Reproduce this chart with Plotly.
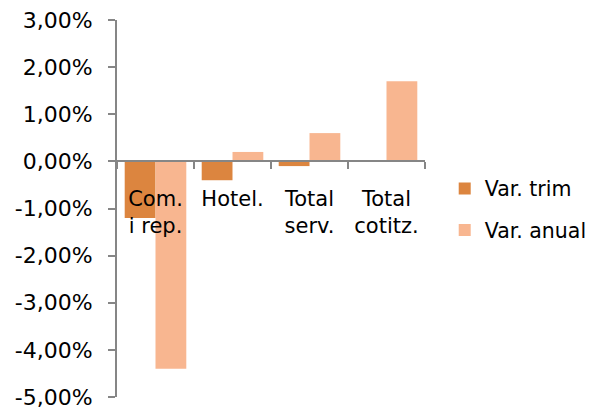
import plotly.graph_objects as go

categories = ["Com.<br>i rep.", "Hotel.", "Total<br>serv.", "Total<br>cotitz."]
var_trim = [-1.2, -0.4, -0.1, 0.0]
var_anual = [-4.4, 0.2, 0.6, 1.7]
y_tickvals = [3, 2, 1, 0, -1, -2, -3, -4, -5]
y_ticktext = ["3,00%", "2,00%", "1,00%", "0,00%", "-1,00%", "-2,00%", "-3,00%", "-4,00%", "-5,00%"]

FONT = "DejaVu Sans"
AXIS = "#868686"

fig = go.Figure()
fig.add_trace(go.Bar(x=categories, y=var_trim, name="Var. trim",
                     marker=dict(color="#DC853F", line=dict(width=0)),
                     legendgroup="a"))
fig.add_trace(go.Bar(x=categories, y=var_anual, name="Var. anual",
                     marker=dict(color="#F8B690", line=dict(width=0)),
                     legendgroup="b"))

fig.update_layout(
    width=590, height=399,
    margin=dict(l=109, r=173, t=12, b=10, autoexpand=False),
    paper_bgcolor="white", plot_bgcolor="white",
    barmode="group", bargap=0.2, bargroupgap=0,
    font=dict(family=FONT, size=21, color="black"),
    legend=dict(x=1.064, y=0.497, xanchor="left", yanchor="middle",
                tracegroupgap=12, font=dict(size=20.5), itemwidth=30,
                bgcolor="rgba(0,0,0,0)"),
    xaxis=dict(type="category", anchor="free", position=0.625,
               showline=True, linecolor=AXIS, linewidth=2,
               ticks="outside", tickson="boundaries", ticklen=7,
               tickcolor=AXIS, tickwidth=2, ticklabelstandoff=18,
               tickfont=dict(size=21), showgrid=False, zeroline=False,
               automargin=False),
    yaxis=dict(range=[-5, 3], tickvals=y_tickvals, ticktext=y_ticktext,
               showline=True, linecolor=AXIS, linewidth=2,
               ticks="outside", ticklen=7, tickcolor=AXIS, tickwidth=2,
               ticklabelstandoff=11, ticklabeloverflow="allow",
               showgrid=False, zeroline=False, tickfont=dict(size=22),
               automargin=False),
)

fig.write_html("out.html")
